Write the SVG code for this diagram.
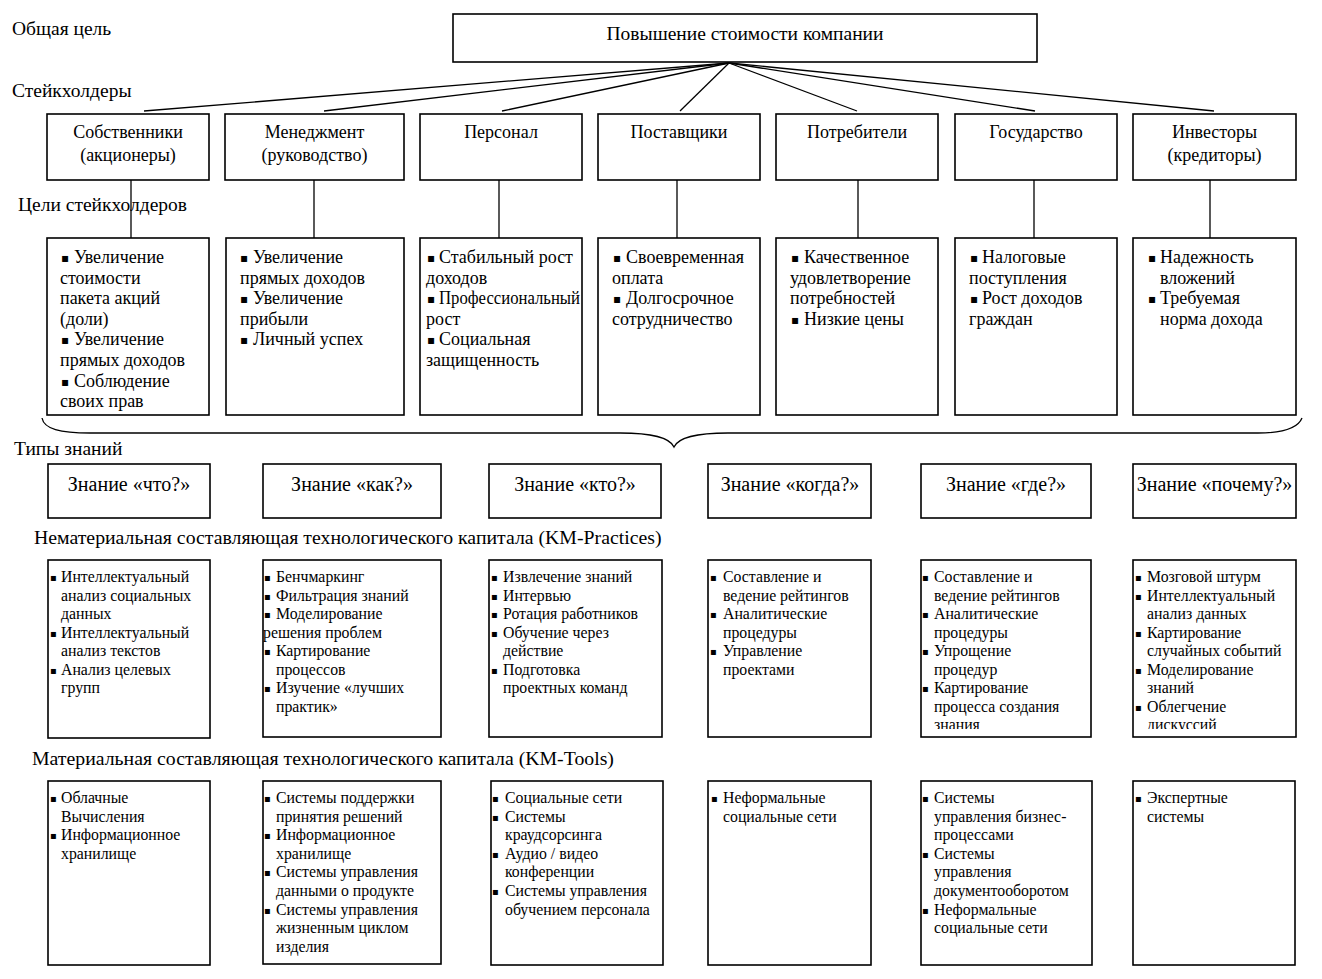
<svg xmlns="http://www.w3.org/2000/svg" width="1322" height="979" viewBox="0 0 1322 979">
<style>
text{font-family:"Liberation Serif","Times New Roman",serif;fill:#000}
.box{fill:#fff;stroke:#000;stroke-width:1.6}
.conn{stroke:#000;stroke-width:1.3;fill:none}
.lbl{font-size:19.5px}
.sec{font-size:19.8px}
.top{font-size:19.5px;text-anchor:middle}
.sh{font-size:18px;text-anchor:middle}
.g{font-size:18px}
.kt{font-size:20px;text-anchor:middle}
.p{font-size:15.8px}
.bg{font-family:"DejaVu Sans",sans-serif;font-size:12px}
.bp{font-family:"DejaVu Sans",sans-serif;font-size:10px}
</style>
<defs>
<clipPath id="clipP5"><rect x="921" y="560" width="171" height="169"/></clipPath>
<clipPath id="clipP6"><rect x="1133" y="560" width="163" height="169"/></clipPath>
</defs>
<rect width="1322" height="979" fill="#fff"/>

<g id="labels">
<text class="lbl" x="12" y="35">Общая цель</text>
<text class="lbl" x="12" y="97">Стейкхолдеры</text>
<text class="lbl" x="14" y="455">Типы знаний</text>
<text class="sec" x="34" y="544">Нематериальная составляющая технологического капитала (KM-Practices)</text>
<text class="sec" x="32" y="765">Материальная составляющая технологического капитала (KM-Tools)</text>
</g>

<g id="goal">
<rect class="box" x="453" y="14" width="584" height="48"/>
<text class="top" x="745" y="40">Повышение стоимости компании</text>
</g>

<g id="stakeholders">
<g id="s1"><rect class="box" x="47" y="114" width="162" height="66"/><text class="sh" x="128" y="138">Собственники</text><text class="sh" x="128" y="161">(акционеры)</text></g>
<g id="s2"><rect class="box" x="225" y="114" width="179" height="66"/><text class="sh" x="314.5" y="138">Менеджмент</text><text class="sh" x="314.5" y="161">(руководство)</text></g>
<g id="s3"><rect class="box" x="420" y="114" width="162" height="66"/><text class="sh" x="501" y="138">Персонал</text></g>
<g id="s4"><rect class="box" x="598" y="114" width="162" height="66"/><text class="sh" x="679" y="138">Поставщики</text></g>
<g id="s5"><rect class="box" x="776" y="114" width="162" height="66"/><text class="sh" x="857" y="138">Потребители</text></g>
<g id="s6"><rect class="box" x="955" y="114" width="162" height="66"/><text class="sh" x="1036" y="138">Государство</text></g>
<g id="s7"><rect class="box" x="1133" y="114" width="163" height="66"/><text class="sh" x="1214.5" y="138">Инвесторы</text><text class="sh" x="1214.5" y="161">(кредиторы)</text></g>
</g>

<g id="connectors">
<line class="conn" x1="729" y1="63" x2="144" y2="111"/>
<line class="conn" x1="729" y1="63" x2="324" y2="111"/>
<line class="conn" x1="729" y1="63" x2="502" y2="111"/>
<line class="conn" x1="729" y1="63" x2="680" y2="111"/>
<line class="conn" x1="729" y1="63" x2="857" y2="111"/>
<line class="conn" x1="729" y1="63" x2="1035" y2="111"/>
<line class="conn" x1="729" y1="63" x2="1214" y2="111"/>
<line class="conn" x1="131" y1="180" x2="131" y2="238"/>
<line class="conn" x1="314" y1="180" x2="314" y2="238"/>
<line class="conn" x1="499" y1="180" x2="499" y2="238"/>
<line class="conn" x1="677" y1="180" x2="677" y2="238"/>
<line class="conn" x1="858" y1="180" x2="858" y2="238"/>
<line class="conn" x1="1034" y1="180" x2="1034" y2="238"/>
<line class="conn" x1="1210" y1="180" x2="1210" y2="238"/>
<path class="conn" stroke-width="1.6" d="M42,418 C44,429 60,433 90,433 L620,433 C655,433 670,438 674,447 C678,438 693,433 728,433 L1258,433 C1285,433 1298,428 1302,418"/>
</g>

<text class="lbl" x="18" y="211">Цели стейкхолдеров</text>

<g id="goals">
<g id="g1"><rect class="box" x="47" y="238" width="162" height="177"/>
<text class="bg" x="61" y="262">▪</text><text class="g" x="74" y="263">Увеличение</text>
<text class="g" x="60" y="283.6">стоимости</text>
<text class="g" x="60" y="304.2">пакета акций</text>
<text class="g" x="60" y="324.8">(доли)</text>
<text class="bg" x="61" y="344.4">▪</text><text class="g" x="74" y="345.4">Увеличение</text>
<text class="g" x="60" y="366">прямых доходов</text>
<text class="bg" x="61" y="385.6">▪</text><text class="g" x="74" y="386.6">Соблюдение</text>
<text class="g" x="60" y="407.2">своих прав</text>
</g>
<g id="g2"><rect class="box" x="226" y="238" width="178" height="177"/>
<text class="bg" x="240" y="262">▪</text><text class="g" x="253" y="263">Увеличение</text>
<text class="g" x="240" y="283.6">прямых доходов</text>
<text class="bg" x="240" y="303.2">▪</text><text class="g" x="253" y="304.2">Увеличение</text>
<text class="g" x="240" y="324.8">прибыли</text>
<text class="bg" x="240" y="344.4">▪</text><text class="g" x="253" y="345.4">Личный успех</text>
</g>
<g id="g3"><rect class="box" x="420" y="238" width="162" height="177"/>
<text class="bg" x="427" y="262">▪</text><text class="g" x="439" y="263">Стабильный рост</text>
<text class="g" x="426" y="283.6">доходов</text>
<text class="bg" x="427" y="303.2">▪</text><text class="g" x="439" y="304.2" textLength="141" lengthAdjust="spacingAndGlyphs">Профессиональный</text>
<text class="g" x="426" y="324.8">рост</text>
<text class="bg" x="427" y="344.4">▪</text><text class="g" x="439" y="345.4">Социальная</text>
<text class="g" x="426" y="366">защищенность</text>
</g>
<g id="g4"><rect class="box" x="598" y="238" width="162" height="177"/>
<text class="bg" x="613" y="262">▪</text><text class="g" x="626" y="263">Своевременная</text>
<text class="g" x="612" y="283.6">оплата</text>
<text class="bg" x="613" y="303.2">▪</text><text class="g" x="626" y="304.2">Долгосрочное</text>
<text class="g" x="612" y="324.8">сотрудничество</text>
</g>
<g id="g5"><rect class="box" x="776" y="238" width="162" height="177"/>
<text class="bg" x="791" y="262">▪</text><text class="g" x="804" y="263">Качественное</text>
<text class="g" x="790" y="283.6">удовлетворение</text>
<text class="g" x="790" y="304.2">потребностей</text>
<text class="bg" x="791" y="323.8">▪</text><text class="g" x="804" y="324.8">Низкие цены</text>
</g>
<g id="g6"><rect class="box" x="955" y="238" width="162" height="177"/>
<text class="bg" x="970" y="262">▪</text><text class="g" x="982" y="263">Налоговые</text>
<text class="g" x="969" y="283.6">поступления</text>
<text class="bg" x="970" y="303.2">▪</text><text class="g" x="982" y="304.2">Рост доходов</text>
<text class="g" x="969" y="324.8">граждан</text>
</g>
<g id="g7"><rect class="box" x="1133" y="238" width="163" height="177"/>
<text class="bg" x="1148" y="262">▪</text><text class="g" x="1160" y="263">Надежность</text>
<text class="g" x="1160" y="283.6">вложений</text>
<text class="bg" x="1148" y="303.2">▪</text><text class="g" x="1160" y="304.2">Требуемая</text>
<text class="g" x="1160" y="324.8">норма дохода</text>
</g>
</g>

<g id="knowledge-types">
<g id="k1"><rect class="box" x="48" y="464" width="162" height="54"/><text class="kt" x="129" y="491">Знание «что?»</text></g>
<g id="k2"><rect class="box" x="263" y="464" width="178" height="54"/><text class="kt" x="352" y="491">Знание «как?»</text></g>
<g id="k3"><rect class="box" x="489" y="464" width="172" height="54"/><text class="kt" x="575" y="491">Знание «кто?»</text></g>
<g id="k4"><rect class="box" x="708" y="464" width="163" height="54"/><text class="kt" x="790" y="491">Знание «когда?»</text></g>
<g id="k5"><rect class="box" x="921" y="464" width="170" height="54"/><text class="kt" x="1006" y="491">Знание «где?»</text></g>
<g id="k6"><rect class="box" x="1133" y="464" width="163" height="54"/><text class="kt" x="1214.5" y="491">Знание «почему?»</text></g>
</g>

<g id="practices">
<g id="p1"><rect class="box" x="48" y="560" width="162" height="178"/>
<text class="bp" x="50" y="581">▪</text><text class="p" x="61" y="582">Интеллектуальный</text>
<text class="p" x="61" y="600.5">анализ социальных</text>
<text class="p" x="61" y="619">данных</text>
<text class="bp" x="50" y="636.5">▪</text><text class="p" x="61" y="637.5">Интеллектуальный</text>
<text class="p" x="61" y="656">анализ текстов</text>
<text class="bp" x="50" y="673.5">▪</text><text class="p" x="61" y="674.5">Анализ целевых</text>
<text class="p" x="61" y="693">групп</text>
</g>
<g id="p2"><rect class="box" x="263" y="560" width="178" height="177"/>
<text class="bp" x="264" y="581">▪</text><text class="p" x="276" y="582">Бенчмаркинг</text>
<text class="bp" x="264" y="599.5">▪</text><text class="p" x="276" y="600.5">Фильтрация знаний</text>
<text class="bp" x="264" y="618">▪</text><text class="p" x="276" y="619">Моделирование</text>
<text class="p" x="263" y="637.5">решения проблем</text>
<text class="bp" x="264" y="655">▪</text><text class="p" x="276" y="656">Картирование</text>
<text class="p" x="276" y="674.5">процессов</text>
<text class="bp" x="264" y="692">▪</text><text class="p" x="276" y="693">Изучение «лучших</text>
<text class="p" x="276" y="711.5">практик»</text>
</g>
<g id="p3"><rect class="box" x="489" y="560" width="173" height="177"/>
<text class="bp" x="491" y="581">▪</text><text class="p" x="503" y="582">Извлечение знаний</text>
<text class="bp" x="491" y="599.5">▪</text><text class="p" x="503" y="600.5">Интервью</text>
<text class="bp" x="491" y="618">▪</text><text class="p" x="503" y="619">Ротация работников</text>
<text class="bp" x="491" y="636.5">▪</text><text class="p" x="503" y="637.5">Обучение через</text>
<text class="p" x="503" y="656">действие</text>
<text class="bp" x="491" y="673.5">▪</text><text class="p" x="503" y="674.5">Подготовка</text>
<text class="p" x="503" y="693">проектных команд</text>
</g>
<g id="p4"><rect class="box" x="708" y="560" width="163" height="177"/>
<text class="bp" x="710" y="581">▪</text><text class="p" x="723" y="582">Составление и</text>
<text class="p" x="723" y="600.5">ведение рейтингов</text>
<text class="bp" x="710" y="618">▪</text><text class="p" x="723" y="619">Аналитические</text>
<text class="p" x="723" y="637.5">процедуры</text>
<text class="bp" x="710" y="655">▪</text><text class="p" x="723" y="656">Управление</text>
<text class="p" x="723" y="674.5">проектами</text>
</g>
<g id="p5"><rect class="box" x="921" y="560" width="170" height="177"/>
<g clip-path="url(#clipP5)">
<text class="bp" x="922" y="581">▪</text><text class="p" x="934" y="582">Составление и</text>
<text class="p" x="934" y="600.5">ведение рейтингов</text>
<text class="bp" x="922" y="618">▪</text><text class="p" x="934" y="619">Аналитические</text>
<text class="p" x="934" y="637.5">процедуры</text>
<text class="bp" x="922" y="655">▪</text><text class="p" x="934" y="656">Упрощение</text>
<text class="p" x="934" y="674.5">процедур</text>
<text class="bp" x="922" y="692">▪</text><text class="p" x="934" y="693">Картирование</text>
<text class="p" x="934" y="711.5">процесса создания</text>
<text class="p" x="934" y="730">знания</text>
</g></g>
<g id="p6"><rect class="box" x="1133" y="560" width="163" height="177"/>
<g clip-path="url(#clipP6)">
<text class="bp" x="1135" y="581">▪</text><text class="p" x="1147" y="582">Мозговой штурм</text>
<text class="bp" x="1135" y="599.5">▪</text><text class="p" x="1147" y="600.5">Интеллектуальный</text>
<text class="p" x="1147" y="619">анализ данных</text>
<text class="bp" x="1135" y="636.5">▪</text><text class="p" x="1147" y="637.5">Картирование</text>
<text class="p" x="1147" y="656">случайных событий</text>
<text class="bp" x="1135" y="673.5">▪</text><text class="p" x="1147" y="674.5">Моделирование</text>
<text class="p" x="1147" y="693">знаний</text>
<text class="bp" x="1135" y="710.5">▪</text><text class="p" x="1147" y="711.5">Облегчение</text>
<text class="p" x="1147" y="730">дискуссий</text>
</g></g>
</g>

<g id="tools">
<g id="t1"><rect class="box" x="48" y="781" width="162" height="184"/>
<text class="bp" x="50" y="802">▪</text><text class="p" x="61" y="803">Облачные</text>
<text class="p" x="61" y="821.6">Вычисления</text>
<text class="bp" x="50" y="839.2">▪</text><text class="p" x="61" y="840.2">Информационное</text>
<text class="p" x="61" y="858.8">хранилище</text>
</g>
<g id="t2"><rect class="box" x="263" y="781" width="178" height="183"/>
<text class="bp" x="264" y="802">▪</text><text class="p" x="276" y="803">Системы поддержки</text>
<text class="p" x="276" y="821.6">принятия решений</text>
<text class="bp" x="264" y="839.2">▪</text><text class="p" x="276" y="840.2">Информационное</text>
<text class="p" x="276" y="858.8">хранилище</text>
<text class="bp" x="264" y="876.4">▪</text><text class="p" x="276" y="877.4">Системы управления</text>
<text class="p" x="276" y="896">данными о продукте</text>
<text class="bp" x="264" y="913.6">▪</text><text class="p" x="276" y="914.6">Системы управления</text>
<text class="p" x="276" y="933.2">жизненным циклом</text>
<text class="p" x="276" y="951.8">изделия</text>
</g>
<g id="t3"><rect class="box" x="491" y="781" width="172" height="184"/>
<text class="bp" x="492" y="802">▪</text><text class="p" x="505" y="803">Социальные сети</text>
<text class="bp" x="492" y="820.6">▪</text><text class="p" x="505" y="821.6">Системы</text>
<text class="p" x="505" y="840.2">краудсорсинга</text>
<text class="bp" x="492" y="857.8">▪</text><text class="p" x="505" y="858.8">Аудио / видео</text>
<text class="p" x="505" y="877.4">конференции</text>
<text class="bp" x="492" y="895">▪</text><text class="p" x="505" y="896">Системы управления</text>
<text class="p" x="505" y="914.6">обучением персонала</text>
</g>
<g id="t4"><rect class="box" x="708" y="781" width="163" height="184"/>
<text class="bp" x="711" y="802">▪</text><text class="p" x="723" y="803">Неформальные</text>
<text class="p" x="723" y="821.6">социальные сети</text>
</g>
<g id="t5"><rect class="box" x="921" y="781" width="171" height="184"/>
<text class="bp" x="922" y="802">▪</text><text class="p" x="934" y="803">Системы</text>
<text class="p" x="934" y="821.6">управления бизнес-</text>
<text class="p" x="934" y="840.2">процессами</text>
<text class="bp" x="922" y="857.8">▪</text><text class="p" x="934" y="858.8">Системы</text>
<text class="p" x="934" y="877.4">управления</text>
<text class="p" x="934" y="896">документооборотом</text>
<text class="bp" x="922" y="913.6">▪</text><text class="p" x="934" y="914.6">Неформальные</text>
<text class="p" x="934" y="933.2">социальные сети</text>
</g>
<g id="t6"><rect class="box" x="1133" y="781" width="162" height="184"/>
<text class="bp" x="1135" y="802">▪</text><text class="p" x="1147" y="803">Экспертные</text>
<text class="p" x="1147" y="821.6">системы</text>
</g>
</g>
</svg>
